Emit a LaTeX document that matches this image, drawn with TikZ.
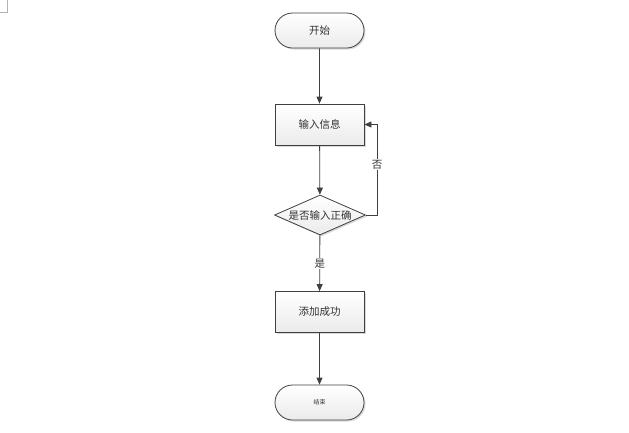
\documentclass[tikz,border=0pt]{standalone}
\usepackage{fontspec}
\newfontfamily\cjk{Noto Sans CJK SC}
\usetikzlibrary{shapes.geometric,shapes.misc,arrows.meta,shadows}
\begin{document}
\begin{tikzpicture}[x=1pt,y=-1pt,
  base/.style={draw=black!75,line width=0.8pt,font=\cjk\fontsize{10.5}{12}\selectfont,text=black!80,
    top color=white,bottom color=black!8,
    drop shadow={shadow xshift=1.5pt,shadow yshift=-1.5pt,fill=black!25,opacity=0.6}},
  term/.style={base,rounded rectangle,minimum width=89pt,minimum height=35pt,inner sep=0pt},
  proc/.style={base,rectangle,minimum width=89pt,minimum height=41pt,inner sep=0pt},
  dec/.style={base,diamond,aspect=2.3,minimum width=91pt,minimum height=40pt,inner sep=0pt},
  conn/.style={draw=black!75,line width=0.8pt,-{Triangle[length=7pt,width=6pt]}},
  lbl/.style={font=\cjk\fontsize{10.5}{12}\selectfont,text=black!80,fill=white,inner sep=1pt}]
\useasboundingbox (0,0) rectangle (629,432);
\draw[black!30,line width=0.8pt] (7,0) -- (7,12) -- (0,12);
\node[term] (start) at (319.5,30.5) {开始};
\node[proc] (input) at (319.5,124.5) {输入信息};
\node[dec] (check) at (320,215) {是否输入正确};
\node[proc] (add) at (319.5,312) {添加成功};
\node[term] (end) at (319.5,402.5) {\fontsize{6}{7}\selectfont 结束};
\coordinate (c1) at (377,215);
\coordinate (c2) at (377,124.5);
\draw[conn] (start) -- (input);
\draw[conn] (input) -- (check);
\draw[conn] (check) -- node[lbl]{是} (add);
\draw[conn] (check.east) -- (c1) -- node[lbl,pos=0.56]{否} (c2) -- (input.east);
\draw[conn] (add) -- (end);
\end{tikzpicture}
\end{document}
